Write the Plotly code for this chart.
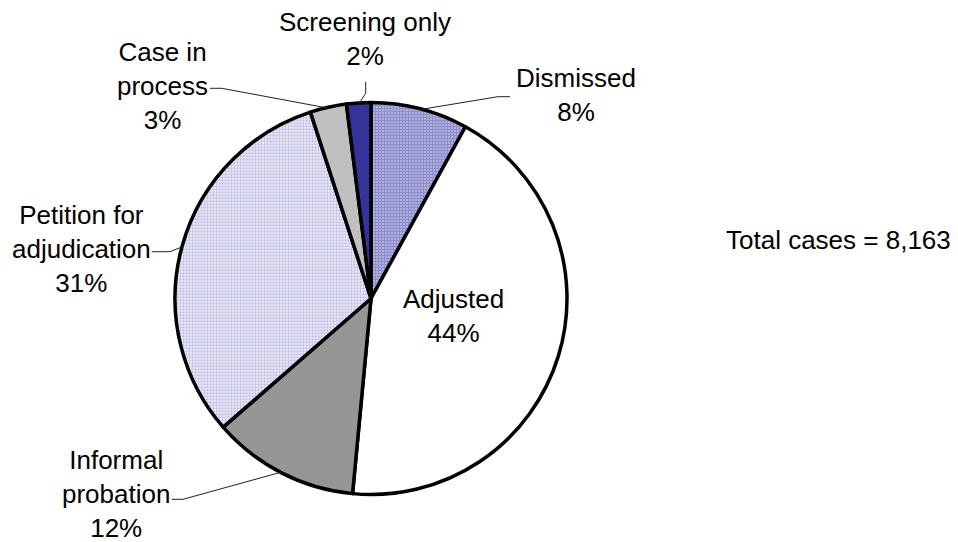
import math
import plotly.graph_objects as go

# ---- data ----
categories = ["Dismissed", "Adjusted", "Informal<br>probation", "Petition for<br>adjudication",
              "Case in<br>process", "Screening only"]
shares = [8.0, 43.5, 12.1, 31.4, 3.0, 2.0]
pct_labels = ["8%", "44%", "12%", "31%", "3%", "2%"]
total_cases = "8,163"

# ---- styles ----
W, H = 958, 542
OFF = 8  # page body margin compensation
CX, CY, R = 371 - OFF, 298.5 - OFF, 196
FONT = "Liberation Sans, Arial, Helvetica, sans-serif"
base_colors = ["#b2b2de", "#ffffff", "#969696", "#ececf8", "#c0c0c0", "#333399"]
pat_shapes = ["+", "", "", ".", "", ""]
pat_fg = ["#6a6abc", "#000000", "#000000", "#9090d0", "#000000", "#000000"]
pat_solid = [0.6, 0.3, 0.3, 0.45, 0.3, 0.3]


def px(x):
    return (x - OFF) / W


def py(y):
    return 1 - (y - OFF) / H


fig = go.Figure()
fig.add_trace(go.Pie(
    labels=categories,
    values=shares,
    sort=False,
    direction="clockwise",
    rotation=0,
    textinfo="none",
    hoverinfo="label+percent",
    showlegend=False,
    marker=dict(
        colors=base_colors,
        line=dict(color="black", width=3.5),
        pattern=dict(shape=pat_shapes, fgcolor=pat_fg, bgcolor=base_colors,
                     size=3, solidity=pat_solid, fillmode="overlay"),
    ),
    domain=dict(x=[(CX - R) / W, (CX + R) / W], y=[1 - (CY + R) / H, 1 - (CY - R) / H]),
))

# label placements (layout, reference pixels): text centre and leader-line path before the pie point
label_layout = [
    dict(x=576, y=95, path=[(510, 96.7), (498, 96.7)]),       # Dismissed
    dict(x=453, y=316, path=None),                            # Adjusted (inside)
    dict(x=116, y=494, path=[(171.7, 499.3), (183, 499.3)]),  # Informal probation
    dict(x=81, y=249, path=[(151.7, 251.7), (170, 251.7)]),   # Petition
    dict(x=162.5, y=86, path=[(210, 88.3), (221.7, 88.3)]),   # Case in process
    dict(x=365, y=39, path=[(365.7, 81.7), (365.7, 93.3)]),   # Screening only
]

total = sum(shares)
cum = 0.0
annotations = []
shapes = []
for cat, val, pct, lay in zip(categories, shares, pct_labels, label_layout):
    mid = (cum + val / 2) / total * 2 * math.pi
    cum += val
    annotations.append(dict(
        x=px(lay["x"]), y=py(lay["y"]), xref="paper", yref="paper",
        text=f"{cat}<br>{pct}", showarrow=False, xanchor="center", yanchor="middle",
        font=dict(family=FONT, size=26, color="black"), align="center",
    ))
    if lay["path"]:
        ex = CX + OFF + (R - 1) * math.sin(mid)
        ey = CY + OFF - (R - 1) * math.cos(mid)
        pts = lay["path"] + [(ex, ey)]
        d = "M " + " L ".join(f"{px(a):.5f},{py(b):.5f}" for a, b in pts)
        shapes.append(dict(type="path", path=d, xref="paper", yref="paper",
                           line=dict(color="#222222", width=1)))

annotations.append(dict(
    x=px(838), y=py(240), xref="paper", yref="paper",
    text=f"Total cases = {total_cases}", showarrow=False, xanchor="center", yanchor="middle",
    font=dict(family=FONT, size=26, color="black"),
))

fig.update_layout(
    width=W, height=H,
    margin=dict(l=0, r=0, t=0, b=0),
    paper_bgcolor="white", plot_bgcolor="white",
    annotations=annotations,
    shapes=shapes,
)
fig.write_html("out.html")
